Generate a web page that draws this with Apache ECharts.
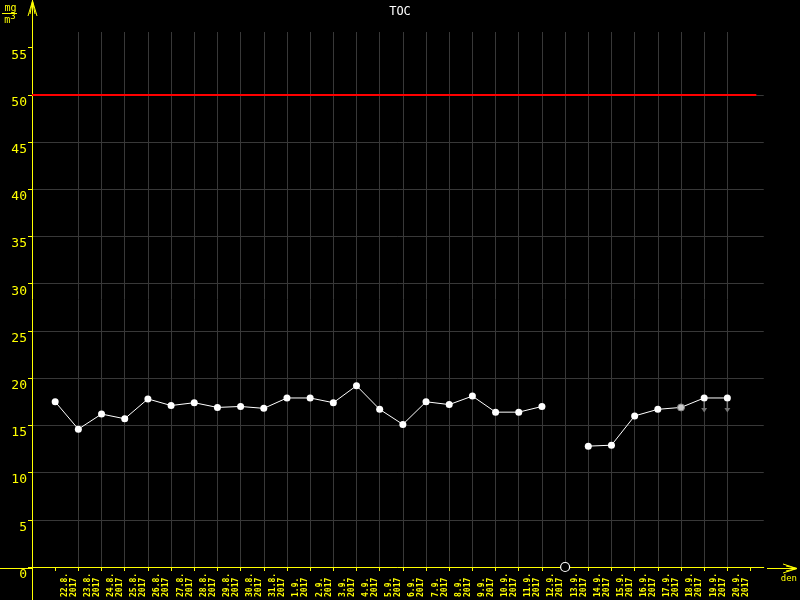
<!DOCTYPE html>
<html>
<head>
<meta charset="utf-8">
<script src="https://cdn.jsdelivr.net/npm/echarts@6/dist/echarts.min.js"></script>
<style>html,body{margin:0;padding:0;background:#000;}#chart{width:800px;height:600px;}</style>
</head>
<body>
<div id="chart"></div>
<script>
// ---- data ----
const dates = ['22.8.','23.8.','24.8.','25.8.','26.8.','27.8.','28.8.','29.8.','30.8.','31.8.',
  '1.9.','2.9.','3.9.','4.9.','5.9.','6.9.','7.9.','8.9.','9.9.','10.9.',
  '11.9.','12.9.','13.9.','14.9.','15.9.','16.9.','17.9.','18.9.','19.9.','20.9.'];
const year = '2017';
const tocValues = [17.5,14.6,16.2,15.7,17.8,17.1,17.4,16.9,17.0,16.8,
  17.9,17.9,17.4,19.2,16.7,15.1,17.5,17.2,18.1,16.4,
  16.4,17.0,null,12.8,12.9,16.0,16.7,16.9,17.9,17.9];
// '' normal, 'missing' no sample, 'special' marked value, 'below' below-limit arrow
const flags = ['','','','','','','','','','',
  '','','','','','','','','','',
  '','','missing','','','','','special','below','below'];
const yTicks = [0,5,10,15,20,25,30,35,40,45,50,55];
const limitValue = 50;
const title = 'TOC';
const xName = 'den';

// ---- styles ----
const YEL = '#ffff00';
const GRID = '#383838';
const mono = 'DejaVu Sans Mono';

const lineData = tocValues.map((v, i) => {
  const item = { value: [i, v] };
  if (flags[i] === 'special') item.itemStyle = { color: '#c8c8c8', borderColor: '#888', borderWidth: 1 };
  return item;
});
const missingData = flags.map((f, i) => f === 'missing' ? [i, 0] : null).filter(d => d);
const belowData = flags.map((f, i) => f === 'below' ? [i, tocValues[i]] : null).filter(d => d);
const tickIdx = dates.map((d, i) => i).concat([dates.length]);

const chart = echarts.init(document.getElementById('chart'));
chart.setOption({
  backgroundColor: '#000',
  animation: false,
  title: { text: title, left: 'center', top: 1,
    textStyle: { color: '#fff', fontSize: 12, fontWeight: 'normal', fontFamily: mono } },
  grid: { left: 32, right: 33, top: 32, bottom: 32, containLabel: false },
  xAxis: {
    type: 'value', min: -1, max: 30.57, interval: 1,
    name: xName, nameLocation: 'end', nameGap: 17,
    nameTextStyle: { color: YEL, fontSize: 9, fontFamily: mono, align: 'left', verticalAlign: 'top', padding: [7, 0, 0, 0] },
    axisLine: { onZero: false, lineStyle: { color: YEL, width: 1 } },
    axisTick: { show: true, length: 4, customValues: tickIdx, lineStyle: { color: YEL } },
    axisLabel: {
      customValues: dates.map((d, i) => i + 0.6),
      formatter: v => { const i = Math.round(v - 0.6); return (dates[i] || '') + '\n' + year; },
      rotate: 90, align: 'left', verticalAlign: 'middle', margin: 30,
      color: YEL, fontSize: 8, lineHeight: 9, fontFamily: mono, fontWeight: 'bold'
    },
    splitLine: { show: true, showMinLine: false, showMaxLine: false, lineStyle: { color: GRID, width: 1 } }
  },
  yAxis: {
    type: 'value', min: 0, max: 56.66, interval: 5,
    axisLine: { show: true, onZero: false, lineStyle: { color: YEL, width: 1 } },
    axisTick: { show: true, length: 4, customValues: yTicks, lineStyle: { color: YEL } },
    axisLabel: { customValues: yTicks, color: YEL, fontSize: 13, fontFamily: mono, margin: 5,
      verticalAlign: 'top', lineHeight: 15 },
    splitLine: { show: true, showMinLine: false, showMaxLine: false, lineStyle: { color: GRID, width: 1 } }
  },
  series: [
    {
      type: 'line', data: lineData, connectNulls: false,
      symbol: 'circle', symbolSize: 7, showSymbol: true,
      itemStyle: { color: '#fff' }, lineStyle: { color: '#fff', width: 1 },
      markLine: {
        silent: true, symbol: 'none', label: { show: false },
        lineStyle: { color: '#ff0000', width: 2, type: 'solid' },
        data: [[{ coord: [-1, limitValue] }, { coord: [30.25, limitValue] }]]
      },
      z: 3
    },
    {
      type: 'scatter', data: belowData,
      symbol: 'path://M4,0 L6,0 L6,7 L9,7 L5,12 L1,7 L4,7 Z',
      symbolSize: [6, 11], symbolOffset: [0, 9],
      itemStyle: { color: '#8a8a8a' }, z: 2
    },
    {
      type: 'scatter', data: missingData,
      symbol: 'circle', symbolSize: 9,
      itemStyle: { color: '#000', borderColor: '#ffffff', borderWidth: 1.2, opacity: 1 }, z: 10, zlevel: 1
    }
  ],
  graphic: [
    // axis extensions and arrows
    { type: 'line', shape: { x1: 0, y1: 568.5, x2: 32, y2: 568.5 }, style: { stroke: YEL, lineWidth: 1 } },
    { type: 'line', shape: { x1: 767, y1: 568.5, x2: 797, y2: 568.5 }, style: { stroke: YEL, lineWidth: 1 } },
    { type: 'polyline', shape: { points: [[783, 564], [797, 568.5], [783, 573]] }, style: { stroke: YEL, fill: null, lineWidth: 1 } },
    { type: 'polyline', shape: { points: [[786, 566], [797, 568.5], [786, 571]] }, style: { stroke: YEL, fill: null, lineWidth: 1 } },
    { type: 'line', shape: { x1: 32.5, y1: 568, x2: 32.5, y2: 600 }, style: { stroke: YEL, lineWidth: 1 } },
    { type: 'line', shape: { x1: 32.5, y1: 32, x2: 32.5, y2: 0 }, style: { stroke: YEL, lineWidth: 1 } },
    { type: 'polyline', shape: { points: [[28, 16], [32.5, 1], [37, 16]] }, style: { stroke: YEL, fill: null, lineWidth: 1 } },
    { type: 'polyline', shape: { points: [[30, 14], [32.5, 1], [35, 14]] }, style: { stroke: YEL, fill: null, lineWidth: 1 } },
    // unit label mg / m3
    { type: 'text', x: 10.5, y: 8, style: { text: 'mg', fill: YEL, font: '10px ' + mono, align: 'center', verticalAlign: 'middle' } },
    { type: 'line', shape: { x1: 2, y1: 13.5, x2: 17, y2: 13.5 }, style: { stroke: YEL, lineWidth: 1 } },
    { type: 'text', x: 10, y: 20, style: {
        text: '{m|m}{s|3}', align: 'center', verticalAlign: 'middle',
        rich: { m: { fill: YEL, font: '10px ' + mono }, s: { fill: YEL, font: '9px ' + mono, verticalAlign: 'top', padding: [0, 0, 6, 0] } }
      } }
  ]
});
</script>
</body>
</html>
